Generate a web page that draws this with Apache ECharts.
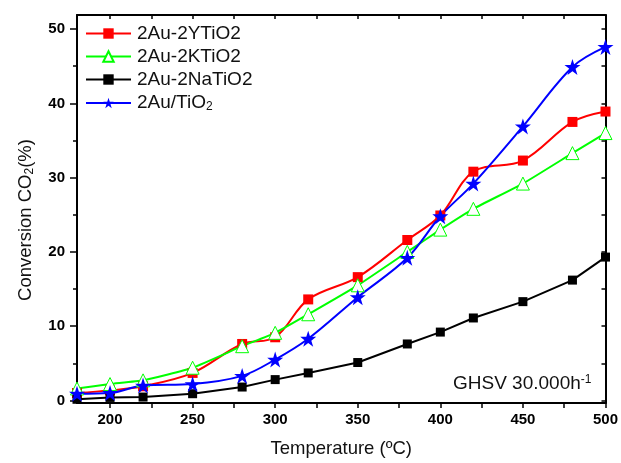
<!DOCTYPE html>
<html><head><meta charset="utf-8">
<script src="https://cdn.jsdelivr.net/npm/echarts@6/dist/echarts.min.js"></script>
<style>html,body{margin:0;padding:0;background:#fff}#c{width:621px;height:463px}</style>
</head><body><div id="c"></div>
<script>
const temperatures = [180, 200, 220, 250, 280, 300, 320, 350, 380, 400, 420, 450, 480, 500];
const conv_2Au2YTiO2  = [1.0, 1.35, 1.9, 3.7, 7.6, 8.5, 13.6, 16.6, 21.6, 24.9, 30.8, 32.3, 37.5, 38.9];
const conv_2Au2KTiO2  = [1.6, 2.2, 2.7, 4.4, 7.3, 9.1, 11.6, 15.5, 20.0, 23.0, 25.8, 29.2, 33.3, 36.0];
const conv_2Au2NaTiO2 = [0.15, 0.4, 0.45, 0.9, 1.8, 2.8, 3.7, 5.1, 7.6, 9.2, 11.1, 13.3, 16.2, 19.3];
const conv_2AuTiO2    = [0.9, 1.0, 2.0, 2.2, 3.3, 5.5, 8.3, 13.9, 19.2, 24.8, 29.2, 36.9, 44.9, 47.6];
const seriesNames = ['2Au-2YTiO2', '2Au-2KTiO2', '2Au-2NaTiO2', '2Au/TiO2'];
const xLabelValues = [200, 250, 300, 350, 400, 450, 500];
const xTickValues = [200, 225, 250, 275, 300, 325, 350, 375, 400, 425, 450, 475, 500];
const yLabelValues = [0, 10, 20, 30, 40, 50];
const yMinorTickValues = [5, 15, 25, 35, 45];
const yRightTickValues = [0, 5, 10, 15, 20, 25, 30, 35, 40, 45, 50];

const FONT = '"Liberation Sans", Arial, Helvetica, sans-serif';
const STAR = 'path://M50,0 L61.8,35.5 L99,35.5 L69,57.5 L80.5,93 L50,71 L19.5,93 L31,57.5 L1,35.5 L38.2,35.5 Z';
const pairs = ys => temperatures.map((t, i) => [t, ys[i]]);

const chart = echarts.init(document.getElementById('c'), null, {renderer: 'canvas'});
const axisLine = {show: true, onZero: false, lineStyle: {color: '#000', width: 2}};
const xMin = 180, xMax = 500, yMin = -0.35, yMax = 51.9;

chart.setOption({
  backgroundColor: '#fff',
  animation: false,
  grid: {left: 77, right: 14, top: 15, bottom: 60},
  xAxis: [
    {
      type: 'value', position: 'bottom', min: xMin, max: xMax,
      axisLine,
      splitLine: {show: false},
      axisTick: {show: true, inside: false, length: 5, customValues: xTickValues, lineStyle: {color: '#000', width: 1.5}},
      axisLabel: {show: true, customValues: xLabelValues, margin: 9, fontFamily: FONT, fontSize: 15, fontWeight: 'bold', color: '#000'},
      name: 'Temperature (ºC)', nameLocation: 'middle', nameGap: 36,
      nameTextStyle: {fontFamily: FONT, fontSize: 18.5, color: '#111'}
    },
    {
      type: 'value', position: 'top', min: xMin, max: xMax,
      axisLine,
      splitLine: {show: false},
      axisTick: {show: true, inside: true, length: 4, customValues: xTickValues, lineStyle: {color: '#000', width: 1.5}},
      axisLabel: {show: false}
    }
  ],
  yAxis: [
    {
      type: 'value', position: 'left', min: yMin, max: yMax,
      axisLine,
      splitLine: {show: false},
      axisTick: {show: true, inside: false, length: 7, customValues: yLabelValues, lineStyle: {color: '#000', width: 1.5}},
      axisLabel: {show: true, customValues: yLabelValues, margin: 12, fontFamily: FONT, fontSize: 15, fontWeight: 'bold', color: '#000'}
    },
    {
      type: 'value', position: 'left', offset: 0, min: yMin, max: yMax,
      axisLine: {show: false, onZero: false},
      splitLine: {show: false},
      axisTick: {show: true, inside: false, length: 4, customValues: yMinorTickValues, lineStyle: {color: '#000', width: 1.5}},
      axisLabel: {show: false}
    },
    {
      type: 'value', position: 'right', offset: 0, min: yMin, max: yMax,
      axisLine,
      splitLine: {show: false},
      axisTick: {show: true, inside: true, length: 4, customValues: yRightTickValues, lineStyle: {color: '#000', width: 1.5}},
      axisLabel: {show: false}
    }
  ],
  legend: {
    orient: 'vertical', left: 85, top: 24, padding: 0,
    itemWidth: 45, itemHeight: 13, itemGap: 4,
    data: seriesNames,
    formatter: n => n === '2Au/TiO2' ? '{a|2Au/TiO}{s|2}' : '{a|' + n + '}',
    textStyle: {
      fontFamily: FONT, fontSize: 19, color: '#111', padding: [0, 0, 0, 1],
      rich: {
        a: {fontFamily: FONT, fontSize: 19, color: '#111', lineHeight: 20},
        s: {fontFamily: FONT, fontSize: 12, color: '#111', lineHeight: 20, verticalAlign: 'bottom', padding: [8, 0, 0, 0]}
      }
    }
  },
  graphic: [
    {
      type: 'text', x: 26, y: 220, rotation: Math.PI / 2, silent: true,
      style: {
        text: '{a|Conversion CO}{s|2}{a|(%)}', align: 'center', verticalAlign: 'middle',
        rich: {
          a: {fontFamily: FONT, fontSize: 18.5, fill: '#111', lineHeight: 20},
          s: {fontFamily: FONT, fontSize: 12, fill: '#111', lineHeight: 20, verticalAlign: 'bottom', padding: [8, 0, 0, 0]}
        }
      }
    },
    {
      type: 'text', x: 453, y: 384, silent: true,
      style: {
        text: '{a|GHSV 30.000h}{s|-1}', align: 'left', verticalAlign: 'middle',
        rich: {
          a: {fontFamily: FONT, fontSize: 19, fill: '#111', lineHeight: 20},
          s: {fontFamily: FONT, fontSize: 12, fill: '#111', lineHeight: 20, verticalAlign: 'top', padding: [0, 0, 8, 0]}
        }
      }
    }
  ],
  series: [
    {
      name: seriesNames[0], type: 'line', data: pairs(conv_2Au2YTiO2), smooth: 0.35,
      symbol: 'rect', symbolSize: 10,
      itemStyle: {color: '#ff0000'}, lineStyle: {color: '#ff0000', width: 2}
    },
    {
      name: seriesNames[1], type: 'line', data: pairs(conv_2Au2KTiO2), smooth: 0.15,
      symbol: 'triangle', symbolSize: 13,
      itemStyle: {color: '#ffffff', borderColor: '#00ff00', borderWidth: 1}, lineStyle: {color: '#00ff00', width: 2}
    },
    {
      name: seriesNames[2], type: 'line', data: pairs(conv_2Au2NaTiO2), smooth: false,
      symbol: 'rect', symbolSize: 9,
      itemStyle: {color: '#000000'}, lineStyle: {color: '#000000', width: 2}
    },
    {
      name: seriesNames[3], type: 'line', data: pairs(conv_2AuTiO2), smooth: 0.35,
      symbol: STAR, symbolSize: 16,
      itemStyle: {color: '#0000ff'}, lineStyle: {color: '#0000ff', width: 2}
    }
  ]
});
</script>
</body></html>
